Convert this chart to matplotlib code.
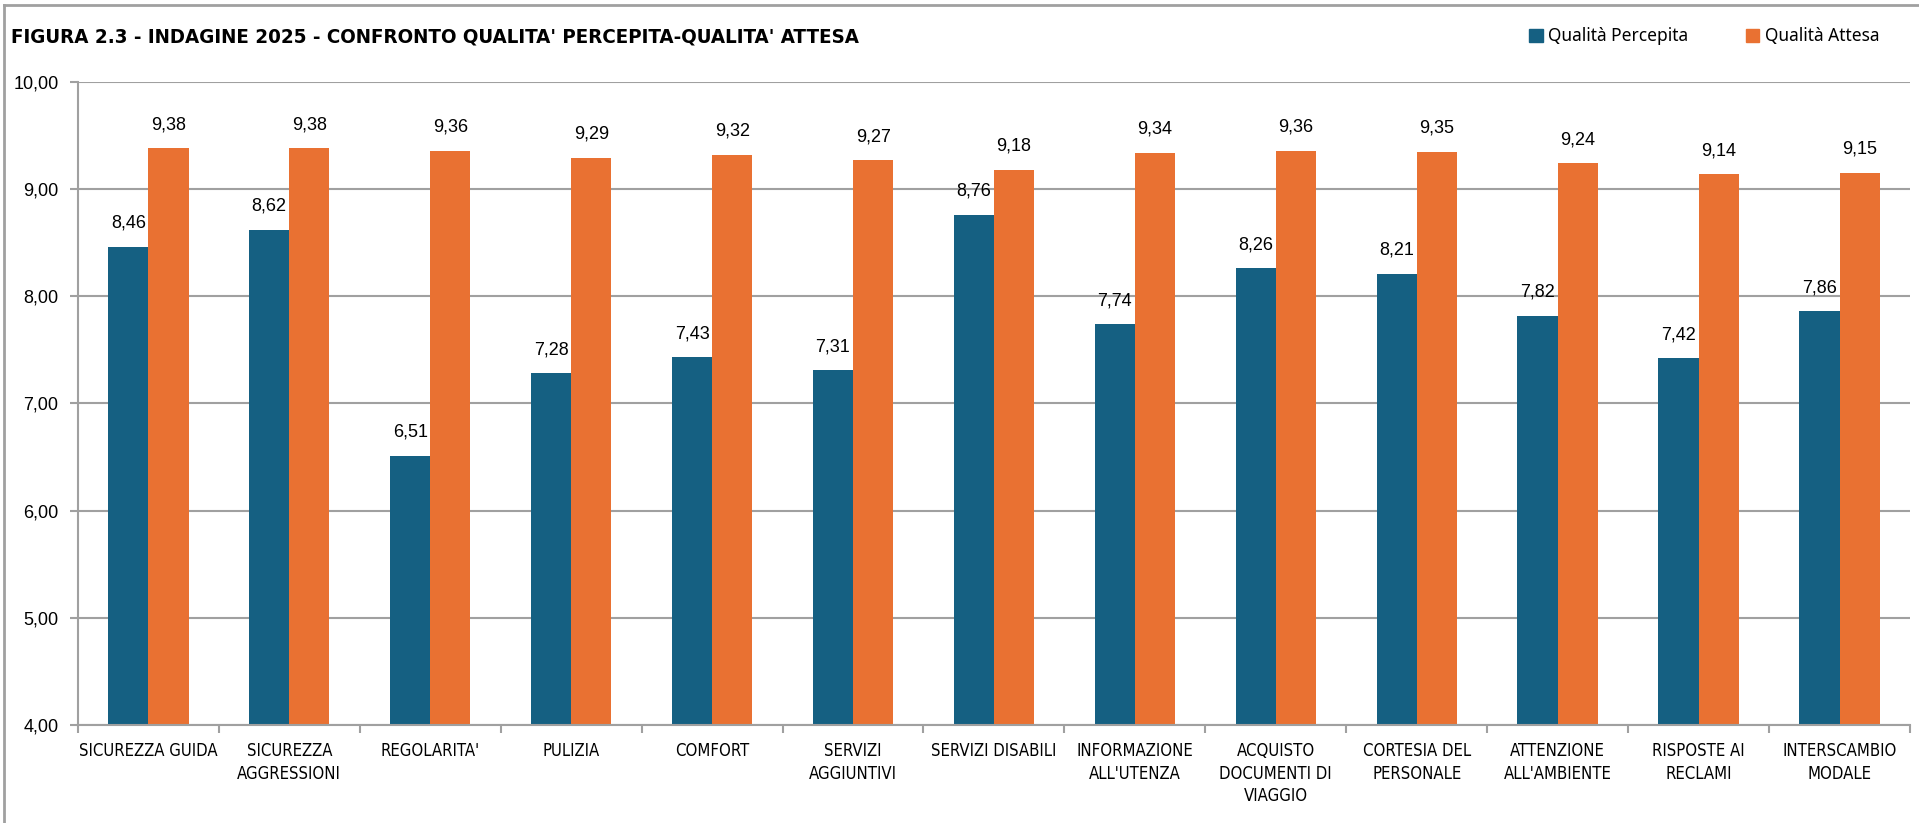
import matplotlib
matplotlib.use("Agg")
import matplotlib.pyplot as plt
import numpy as np
from matplotlib.lines import Line2D
from matplotlib.patches import Patch

# dati indagine 2025
categorie = [
    "SICUREZZA GUIDA", "SICUREZZA\nAGGRESSIONI", "REGOLARITA'", "PULIZIA", "COMFORT",
    "SERVIZI\nAGGIUNTIVI", "SERVIZI DISABILI", "INFORMAZIONE\nALL'UTENZA",
    "ACQUISTO\nDOCUMENTI DI\nVIAGGIO", "CORTESIA DEL\nPERSONALE", "ATTENZIONE\nALL'AMBIENTE",
    "RISPOSTE AI\nRECLAMI", "INTERSCAMBIO\nMODALE",
]
percepita = [8.46, 8.62, 6.51, 7.28, 7.43, 7.31, 8.76, 7.74, 8.26, 8.21, 7.82, 7.42, 7.86]
attesa = [9.38, 9.38, 9.36, 9.29, 9.32, 9.27, 9.18, 9.34, 9.36, 9.35, 9.24, 9.14, 9.15]
serie = ["Qualità Percepita", "Qualità Attesa"]
titolo = "FIGURA 2.3 - INDAGINE 2025 - CONFRONTO QUALITA' PERCEPITA-QUALITA' ATTESA"

BLU = "#156082"
ARANCIO = "#E97132"
GRIGIO = "#A0A0A0"

plt.rcParams["font.family"] = ["Liberation Sans", "DejaVu Sans"]

fig = plt.figure(figsize=(19.19, 8.23), dpi=100)
ax = fig.add_axes([0.0406, 0.1191, 0.9547, 0.7813])

x = np.arange(len(categorie))
w = 0.285
ax.bar(x - w / 2, [v - 4 for v in percepita], w, bottom=4, color=BLU)
ax.bar(x + w / 2, [v - 4 for v in attesa], w, bottom=4, color=ARANCIO)

def fmt(v):
    return f"{v:.2f}".replace(".", ",")

# etichette valori sopra le barre
for xs, vals in ((x - w / 2, percepita), (x + w / 2, attesa)):
    for xi, v in zip(xs, vals):
        ax.annotate(fmt(v), (xi, v), xytext=(0, 17), textcoords="offset points",
                    ha="center", va="center", fontsize=13)

ax.set_xlim(-0.5, len(categorie) - 0.5)
ax.set_ylim(4, 10)
ax.set_yticks(np.arange(4, 10.01, 1))
ax.set_yticklabels([fmt(v) for v in np.arange(4, 10.01, 1)], fontsize=13)
ax.yaxis.grid(True, color=GRIGIO, linewidth=1.5)
ax.set_axisbelow(True)

ax.set_xticks(x)
ax.set_xticklabels(categorie, fontsize=12, family="DejaVu Sans", fontstretch="condensed",
                   linespacing=1.35)
ax.set_xticks(np.arange(-0.5, len(categorie)), minor=True)
ax.tick_params(axis="x", which="major", length=0, pad=12)
ax.tick_params(axis="x", which="minor", length=6, width=1.5, color=GRIGIO, direction="out")
ax.tick_params(axis="y", length=6, width=1.5, color=GRIGIO, pad=8)

for s in ("top", "right"):
    ax.spines[s].set_visible(False)
for s in ("left", "bottom"):
    ax.spines[s].set_color(GRIGIO)
    ax.spines[s].set_linewidth(1.5)

fig.text(0.0055, 0.955, titolo, fontsize=14.7, fontweight="bold", family="DejaVu Sans",
         fontstretch="condensed", ha="left", va="center")

handles = [Patch(color=BLU), Patch(color=ARANCIO)]
fig.legend(handles, serie, loc="center", bbox_to_anchor=(0.888, 0.956), ncol=2,
           frameon=False, handlelength=0.8, handleheight=0.8,
           handletextpad=0.3, columnspacing=3.3, prop={"family": "Noto Sans", "size": 12.5})

# cornice del grafico
fig.add_artist(Line2D([0.002, 0.002], [0, 0.994], color=GRIGIO, linewidth=2, transform=fig.transFigure))
fig.add_artist(Line2D([0.002, 1], [0.994, 0.994], color=GRIGIO, linewidth=2, transform=fig.transFigure))

fig.savefig("out.png", dpi=100)
